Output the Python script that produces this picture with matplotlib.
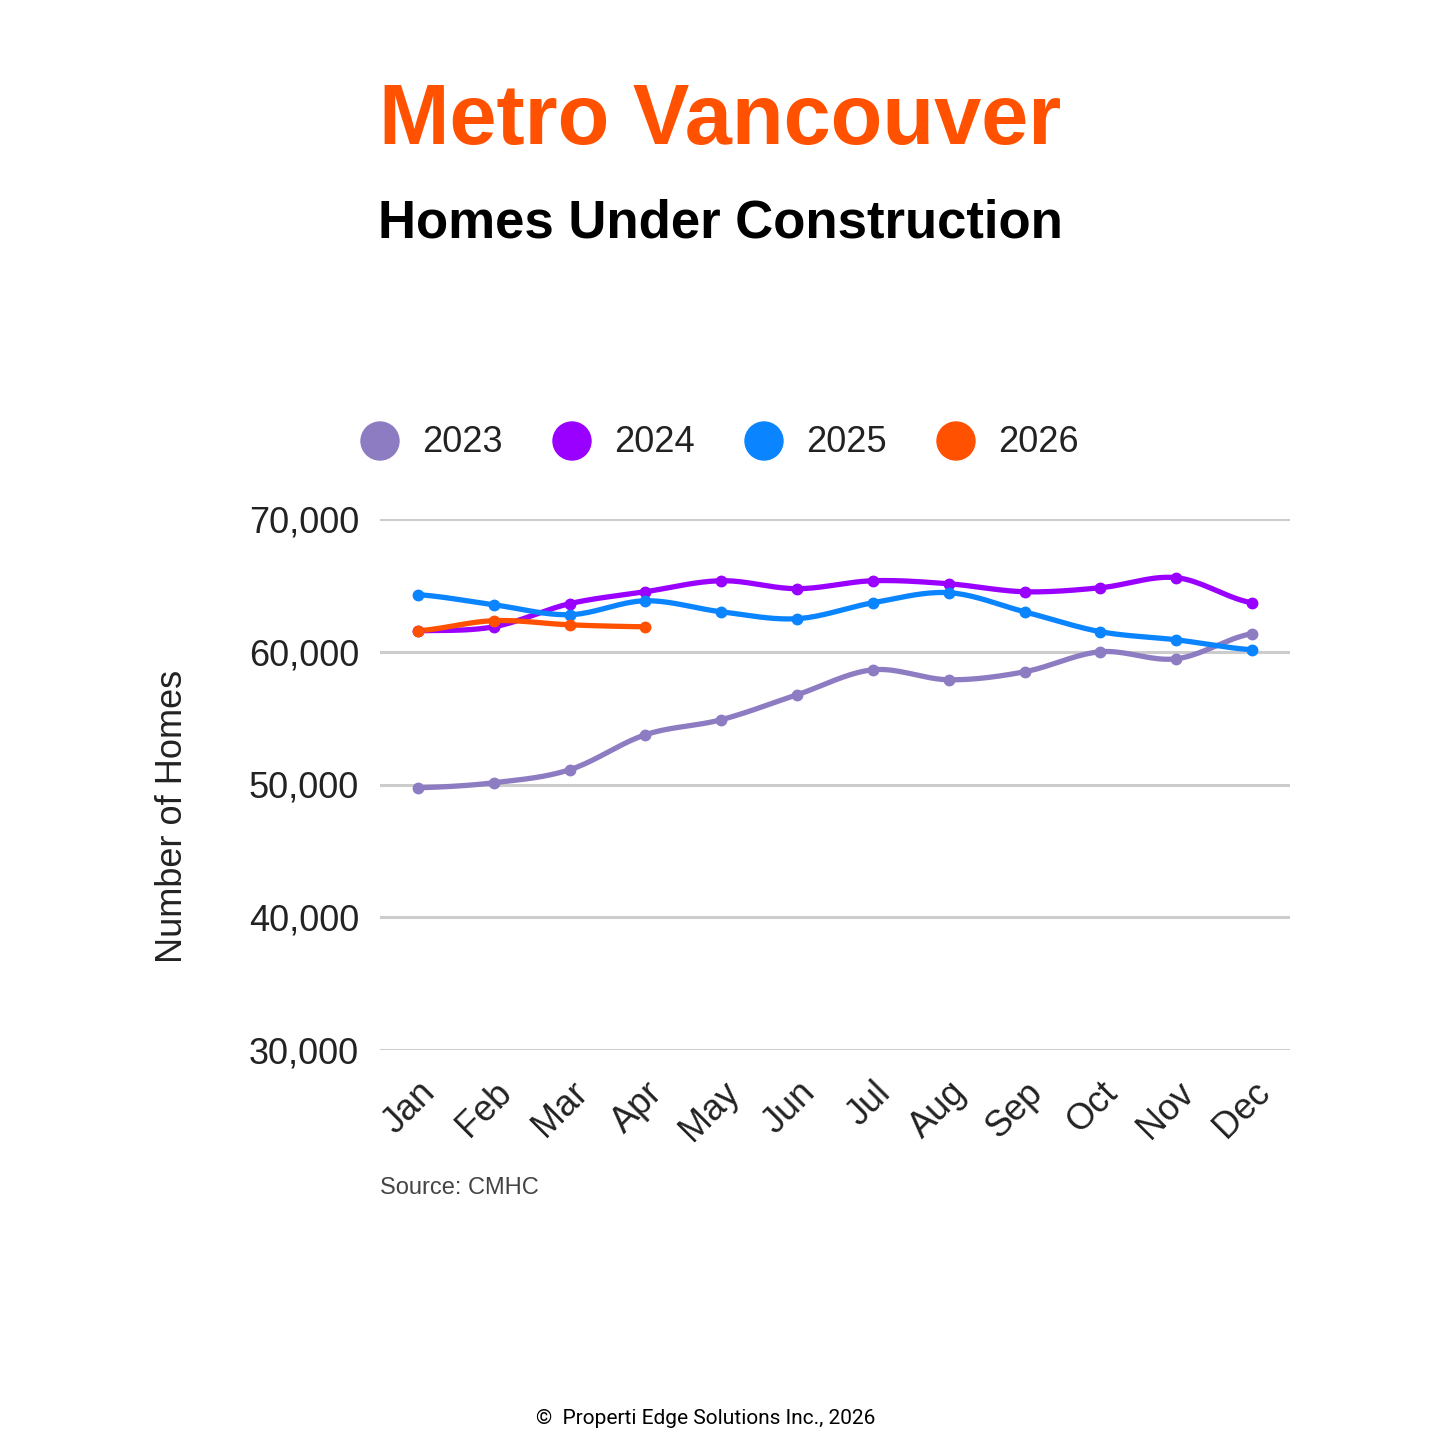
import numpy as np
import matplotlib
matplotlib.use("Agg")
import matplotlib.pyplot as plt
from matplotlib.ticker import FuncFormatter

# data
months = ["Jan", "Feb", "Mar", "Apr", "May", "Jun", "Jul", "Aug", "Sep", "Oct", "Nov", "Dec"]
homes_2023 = [49750, 50130, 51110, 53750, 54880, 56760, 58640, 57890, 58490, 60000, 59470, 61360]
homes_2024 = [61580, 61880, 63620, 64520, 65350, 64750, 65350, 65120, 64520, 64820, 65580, 63690]
homes_2025 = [64300, 63540, 62790, 63840, 63010, 62490, 63690, 64450, 63010, 61510, 60900, 60150]
homes_2026 = [61580, 62340, 62030, 61880]

series = [
    ("2023", homes_2023, "#8e7cc3"),
    ("2024", homes_2024, "#9900ff"),
    ("2025", homes_2025, "#0a84ff"),
    ("2026", homes_2026, "#ff5100"),
]

FONT = "Liberation Sans"


def smooth(xs, ys, n=20):
    # catmull-rom curve through the points, just for drawing the line
    xs = np.asarray(xs, float)
    ys = np.asarray(ys, float)
    px = np.concatenate([[2 * xs[0] - xs[1]], xs, [2 * xs[-1] - xs[-2]]])
    py = np.concatenate([[ys[0]], ys, [ys[-1]]])
    out_x, out_y = [], []
    t = np.linspace(0, 1, n, endpoint=False)
    for i in range(1, len(px) - 2):
        for arr, out in ((px, out_x), (py, out_y)):
            p0, p1, p2, p3 = arr[i - 1], arr[i], arr[i + 1], arr[i + 2]
            out.extend(0.5 * ((2 * p1) + (-p0 + p2) * t
                              + (2 * p0 - 5 * p1 + 4 * p2 - p3) * t ** 2
                              + (-p0 + 3 * p1 - 3 * p2 + p3) * t ** 3))
    out_x.append(xs[-1])
    out_y.append(ys[-1])
    return out_x, out_y


fig = plt.figure(figsize=(14.4, 14.4), dpi=100)
ax = fig.add_axes([380 / 1440, 1 - 1050 / 1440, 910 / 1440, 531 / 1440])

for name, vals, col in series:
    x = np.arange(len(vals))
    sx, sy = smooth(x, vals)
    ax.plot(sx, sy, color=col, lw=3.8, solid_capstyle="round", zorder=3)
    ax.plot(x, vals, "o", color=col, ms=7.5, zorder=4)

ax.set_xlim(-0.5, 11.5)
ax.set_ylim(30000, 70000)
ax.set_yticks([30000, 40000, 50000, 60000, 70000])
ax.yaxis.set_major_formatter(FuncFormatter(lambda v, p: f"{int(v):,}"))
ax.set_xticks(range(12))
ax.set_xticklabels(months, rotation=45, ha="right", va="top", rotation_mode="anchor")
ax.grid(axis="y", color="#cccccc", lw=2.2)
ax.set_axisbelow(True)
for s in ax.spines.values():
    s.set_visible(False)
ax.tick_params(length=0, labelsize=26, labelcolor="#222222")
ax.tick_params(axis="y", pad=15)
ax.tick_params(axis="x", pad=18)
for lab in ax.get_xticklabels() + ax.get_yticklabels():
    lab.set_family(FONT)

# axis title placed by hand, it sits a bit below the plot centre
fig.text(172 / 1440, 1 - 816 / 1440, "Number of Homes", rotation=90, ha="center", va="center",
         fontsize=26, family=FONT, color="#222222")

# titles
fig.text(0.5, 1 - 122 / 1440, "Metro Vancouver", ha="center", va="center",
         fontsize=61, fontweight="bold", color="#ff5100", family=FONT)
fig.text(0.5, 1 - 224 / 1440, "Homes Under Construction", ha="center", va="center",
         fontsize=38, fontweight="bold", color="black", family=FONT)

# legend drawn by hand to match the spacing
leg_x = [380, 572, 764, 956]
for (name, vals, col), lx in zip(series, leg_x):
    fig.patches.append(plt.Circle((lx / 1440, 1 - 441 / 1440), 19 / 1440, color=col,
                                  transform=fig.transFigure, figure=fig))
    fig.text((lx + 42) / 1440, 1 - 443 / 1440, name, ha="left", va="center",
             fontsize=26, color="#222222", family=FONT)

fig.text(380 / 1440, 1 - 1188 / 1440, "Source: CMHC", ha="left", va="center",
         fontsize=17, color="#444444", family=FONT)
fig.text(0.49, 1 - 1419 / 1440, "©  Properti Edge Solutions Inc., 2026", ha="center", va="center",
         fontsize=15, color="black", family="Roboto")

fig.savefig("out.png", dpi=100, facecolor="white")
